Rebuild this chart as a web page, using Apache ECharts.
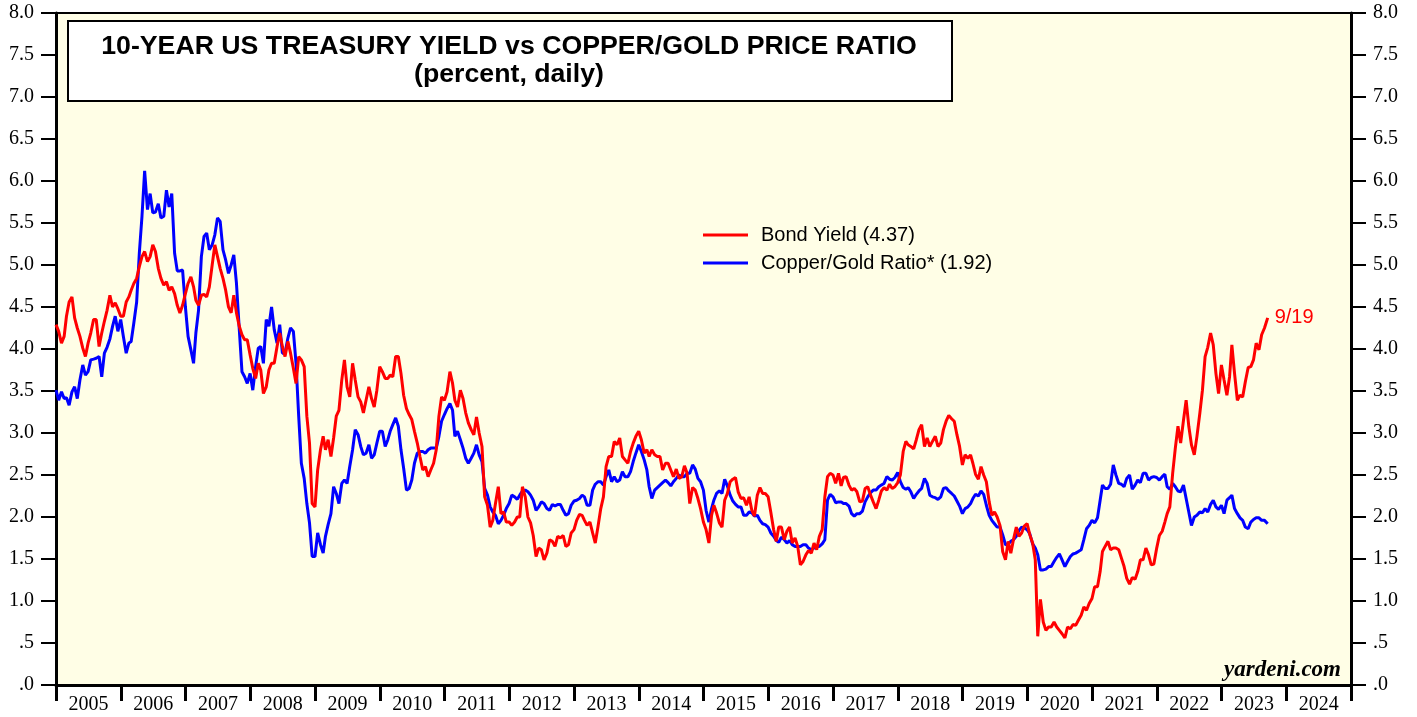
<!DOCTYPE html>
<html>
<head>
<meta charset="utf-8">
<script src="https://cdn.jsdelivr.net/npm/echarts@6/dist/echarts.min.js"></script>
<style>
  html, body { margin: 0; padding: 0; background: #ffffff; }
  #chart { width: 1417px; height: 717px; }
</style>
</head>
<body>
<div id="chart"></div>
<script>
// Year labels along the bottom axis (one band per calendar year)
const yearLabels = ['2005','2006','2007','2008','2009','2010','2011','2012','2013','2014',
                    '2015','2016','2017','2018','2019','2020','2021','2022','2023','2024'];

// Readings are taken on the 1st and 16th of each month from Jan 1, 2005,
// followed by the latest daily reading
const firstYear = 2005;
const lastDate = '2023-09-19';
const lastLabel = '9/19';

// 10-year US Treasury yield, percent (one row per year, 24 readings each)
const bondYield = [
  4.29, 4.21, 4.07, 4.15, 4.39, 4.56, 4.62, 4.37, 4.25, 4.15, 4.01, 3.91, 4.07, 4.19, 4.35, 4.35, 4.03, 4.19, 4.33, 4.46, 4.64, 4.50, 4.55, 4.48,
  4.39, 4.39, 4.56, 4.62, 4.70, 4.78, 4.84, 4.98, 5.10, 5.16, 5.04, 5.10, 5.24, 5.16, 4.96, 4.84, 4.76, 4.80, 4.70, 4.74, 4.66, 4.52, 4.43, 4.52,
  4.66, 4.78, 4.86, 4.74, 4.58, 4.52, 4.64, 4.65, 4.62, 4.74, 5.00, 5.24, 5.10, 4.96, 4.84, 4.70, 4.50, 4.43, 4.64, 4.43, 4.27, 4.17, 4.11, 4.11,
  3.93, 3.77, 3.65, 3.83, 3.75, 3.47, 3.55, 3.75, 3.83, 3.83, 4.03, 4.19, 4.03, 3.91, 4.09, 3.95, 3.77, 3.59, 3.91, 3.87, 3.79, 3.20, 2.88, 2.16,
  2.12, 2.56, 2.80, 2.96, 2.80, 2.92, 2.72, 2.94, 3.20, 3.27, 3.63, 3.87, 3.55, 3.43, 3.83, 3.63, 3.43, 3.37, 3.24, 3.39, 3.55, 3.41, 3.31, 3.51,
  3.79, 3.73, 3.65, 3.65, 3.69, 3.67, 3.91, 3.91, 3.71, 3.45, 3.29, 3.22, 3.16, 3.02, 2.88, 2.72, 2.56, 2.60, 2.48, 2.56, 2.64, 2.80, 3.20, 3.43,
  3.39, 3.49, 3.73, 3.59, 3.39, 3.31, 3.51, 3.41, 3.24, 3.12, 3.04, 2.98, 3.19, 3.00, 2.84, 2.24, 2.14, 1.88, 1.96, 2.16, 2.36, 2.04, 2.06, 1.94,
  1.94, 1.90, 1.94, 2.00, 2.00, 2.36, 2.24, 2.00, 1.93, 1.78, 1.53, 1.63, 1.61, 1.49, 1.57, 1.73, 1.71, 1.65, 1.77, 1.75, 1.78, 1.65, 1.67, 1.81,
  1.85, 1.96, 2.03, 2.02, 1.96, 1.90, 1.94, 1.81, 1.69, 1.88, 2.10, 2.24, 2.60, 2.72, 2.72, 2.90, 2.86, 2.94, 2.72, 2.68, 2.64, 2.78, 2.88, 2.96,
  3.02, 2.92, 2.76, 2.80, 2.72, 2.80, 2.74, 2.72, 2.72, 2.56, 2.64, 2.64, 2.56, 2.48, 2.57, 2.46, 2.48, 2.61, 2.52, 2.16, 2.35, 2.32, 2.22, 2.10,
  1.94, 1.85, 1.69, 2.02, 2.14, 2.05, 1.93, 1.88, 2.20, 2.28, 2.42, 2.45, 2.47, 2.30, 2.22, 2.23, 2.14, 2.24, 2.08, 2.01, 2.26, 2.35, 2.28, 2.28,
  2.24, 2.06, 1.85, 1.71, 1.88, 1.88, 1.73, 1.83, 1.88, 1.69, 1.75, 1.65, 1.43, 1.47, 1.55, 1.60, 1.57, 1.69, 1.61, 1.77, 1.85, 2.24, 2.48, 2.52,
  2.50, 2.40, 2.52, 2.37, 2.47, 2.48, 2.38, 2.32, 2.34, 2.30, 2.18, 2.19, 2.34, 2.36, 2.26, 2.18, 2.10, 2.20, 2.31, 2.35, 2.32, 2.39, 2.34, 2.36,
  2.41, 2.50, 2.78, 2.90, 2.86, 2.84, 2.81, 2.92, 3.04, 3.10, 2.84, 2.94, 2.84, 2.90, 2.96, 2.84, 2.88, 3.04, 3.14, 3.21, 3.17, 3.14, 2.98, 2.84,
  2.62, 2.74, 2.70, 2.74, 2.64, 2.51, 2.45, 2.60, 2.50, 2.42, 2.18, 2.02, 2.06, 2.00, 1.90, 1.59, 1.49, 1.71, 1.57, 1.73, 1.88, 1.77, 1.81, 1.89,
  1.92, 1.79, 1.69, 1.49, 0.58, 1.02, 0.75, 0.65, 0.69, 0.69, 0.75, 0.69, 0.65, 0.61, 0.56, 0.69, 0.67, 0.72, 0.71, 0.77, 0.83, 0.93, 0.89, 0.97,
  1.03, 1.17, 1.17, 1.35, 1.59, 1.65, 1.71, 1.61, 1.63, 1.63, 1.61, 1.51, 1.41, 1.27, 1.20, 1.28, 1.26, 1.35, 1.49, 1.49, 1.63, 1.55, 1.43, 1.44,
  1.63, 1.78, 1.83, 1.94, 2.04, 2.12, 2.52, 2.82, 3.08, 2.88, 3.15, 3.39, 3.08, 2.86, 2.74, 2.96, 3.23, 3.51, 3.91, 4.02, 4.19, 4.05, 3.71, 3.47,
  3.81, 3.63, 3.45, 3.67, 4.05, 3.71, 3.39, 3.45, 3.43, 3.61, 3.78, 3.79, 3.87, 4.07, 3.99, 4.17, 4.25
];
const bondYieldLast = 4.37;

// Copper/gold price ratio (scaled), same reading dates
const copperGold = [
  3.51, 3.39, 3.49, 3.41, 3.42, 3.33, 3.49, 3.55, 3.41, 3.63, 3.81, 3.69, 3.73, 3.87, 3.88, 3.89, 3.91, 3.67, 3.95, 4.02, 4.12, 4.27, 4.39, 4.21,
  4.35, 4.15, 3.95, 4.07, 4.09, 4.31, 4.56, 5.14, 5.58, 6.12, 5.66, 5.85, 5.62, 5.63, 5.73, 5.56, 5.58, 5.89, 5.69, 5.85, 5.14, 4.93, 4.93, 4.94,
  4.50, 4.15, 3.99, 3.83, 4.19, 4.46, 5.10, 5.34, 5.38, 5.18, 5.24, 5.36, 5.56, 5.52, 5.18, 5.06, 4.90, 5.00, 5.12, 4.78, 4.23, 3.73, 3.67, 3.59,
  3.71, 3.51, 3.79, 4.01, 4.03, 3.83, 4.35, 4.27, 4.50, 4.23, 4.07, 4.29, 3.95, 3.95, 4.13, 4.25, 4.21, 3.83, 3.20, 2.64, 2.46, 2.16, 1.93, 1.53,
  1.53, 1.81, 1.67, 1.57, 1.77, 1.91, 2.04, 2.36, 2.28, 2.16, 2.40, 2.44, 2.40, 2.60, 2.80, 3.04, 2.98, 2.84, 2.74, 2.76, 2.86, 2.70, 2.74, 2.88,
  3.02, 3.02, 2.84, 2.92, 3.02, 3.10, 3.18, 3.08, 2.80, 2.58, 2.32, 2.34, 2.44, 2.64, 2.76, 2.78, 2.78, 2.76, 2.80, 2.82, 2.82, 2.82, 2.96, 3.14,
  3.22, 3.29, 3.35, 3.27, 2.96, 3.02, 2.92, 2.82, 2.70, 2.64, 2.70, 2.76, 2.86, 2.74, 2.66, 2.34, 2.26, 2.12, 2.06, 2.02, 1.92, 1.96, 2.02, 2.10,
  2.16, 2.26, 2.24, 2.21, 2.26, 2.31, 2.32, 2.30, 2.26, 2.20, 2.08, 2.12, 2.18, 2.16, 2.10, 2.08, 2.15, 2.13, 2.15, 2.15, 2.08, 2.02, 2.04, 2.14,
  2.19, 2.20, 2.22, 2.26, 2.24, 2.14, 2.14, 2.32, 2.39, 2.42, 2.42, 2.38, 2.48, 2.56, 2.42, 2.48, 2.42, 2.44, 2.54, 2.48, 2.48, 2.54, 2.66, 2.76,
  2.86, 2.78, 2.68, 2.56, 2.36, 2.22, 2.32, 2.35, 2.38, 2.41, 2.44, 2.41, 2.37, 2.42, 2.46, 2.50, 2.48, 2.48, 2.52, 2.52, 2.62, 2.57, 2.46, 2.42,
  2.32, 2.08, 1.94, 2.10, 2.20, 2.28, 2.31, 2.28, 2.45, 2.37, 2.26, 2.19, 2.15, 2.12, 2.12, 2.02, 2.02, 2.06, 2.05, 2.01, 2.02, 1.96, 1.92, 1.91,
  1.88, 1.81, 1.77, 1.72, 1.70, 1.76, 1.73, 1.69, 1.72, 1.67, 1.65, 1.65, 1.65, 1.67, 1.67, 1.63, 1.61, 1.63, 1.65, 1.65, 1.68, 1.73, 2.20, 2.27,
  2.24, 2.17, 2.18, 2.18, 2.16, 2.16, 2.13, 2.04, 2.01, 2.04, 2.04, 2.07, 2.18, 2.24, 2.29, 2.32, 2.32, 2.36, 2.38, 2.40, 2.48, 2.45, 2.44, 2.47,
  2.53, 2.42, 2.35, 2.33, 2.35, 2.30, 2.22, 2.27, 2.31, 2.34, 2.46, 2.40, 2.26, 2.24, 2.23, 2.21, 2.24, 2.34, 2.35, 2.31, 2.28, 2.25, 2.19, 2.13,
  2.04, 2.10, 2.12, 2.16, 2.22, 2.27, 2.25, 2.31, 2.27, 2.14, 2.02, 1.96, 1.92, 1.88, 1.88, 1.79, 1.67, 1.68, 1.71, 1.73, 1.77, 1.84, 1.88, 1.87,
  1.85, 1.80, 1.68, 1.63, 1.55, 1.37, 1.37, 1.38, 1.41, 1.41, 1.47, 1.52, 1.56, 1.49, 1.41, 1.47, 1.53, 1.56, 1.57, 1.59, 1.61, 1.73, 1.86, 1.90,
  1.96, 1.93, 1.99, 2.20, 2.38, 2.34, 2.34, 2.39, 2.62, 2.50, 2.40, 2.39, 2.36, 2.46, 2.50, 2.33, 2.38, 2.44, 2.41, 2.52, 2.52, 2.44, 2.47, 2.48,
  2.47, 2.44, 2.48, 2.51, 2.36, 2.33, 2.40, 2.36, 2.31, 2.30, 2.38, 2.22, 2.06, 1.90, 2.00, 2.02, 2.06, 2.05, 2.10, 2.06, 2.15, 2.20, 2.12, 2.09,
  2.14, 2.04, 2.20, 2.23, 2.26, 2.10, 2.04, 1.99, 1.96, 1.88, 1.86, 1.94, 1.97, 1.99, 1.99, 1.96, 1.96
];
const copperGoldLast = 1.92;

// Y-axis ticks, shared by both sides
const yMin = 0, yMax = 8, yStep = 0.5;

function semiMonthlyPairs(values, lastValue) {
  const pts = values.map((v, i) =>
    [Date.UTC(firstYear, Math.floor(i / 2), i % 2 ? 16 : 1), v]);
  const d = lastDate.split('-').map(Number);
  pts.push([Date.UTC(d[0], d[1] - 1, d[2]), lastValue]);
  return pts;
}

const serifFont = '"Liberation Serif", "Times New Roman", serif';
const sansFont = '"Liberation Sans", Arial, sans-serif';

function yLabel(v) {
  const s = v.toFixed(1);
  return s.charAt(0) === '0' ? s.slice(1) : s;
}

const yAxisCommon = {
  type: 'value', min: yMin, max: yMax, interval: yStep,
  splitLine: { show: false },
  axisLine: { show: true, lineStyle: { color: '#000', width: 3 } },
  axisTick: { show: true, inside: false, length: 15, lineStyle: { color: '#000', width: 2 } },
  axisLabel: { color: '#000', fontFamily: serifFont, fontSize: 20, margin: 22, formatter: yLabel }
};

const chart = echarts.init(document.getElementById('chart'), null, { renderer: 'canvas' });

chart.setOption({
  animation: false,
  backgroundColor: '#ffffff',
  grid: {
    left: 56, right: 66, top: 13, bottom: 32,
    show: true, backgroundColor: '#FFFEE6', borderColor: '#000', borderWidth: 2
  },
  xAxis: [
    {
      type: 'category', data: yearLabels, boundaryGap: true, position: 'bottom',
      axisLine: { show: true, lineStyle: { color: '#000', width: 3 } },
      axisTick: { show: true, interval: 0, length: 16, lineStyle: { color: '#000', width: 3 } },
      axisLabel: { interval: 0, color: '#000', fontFamily: serifFont, fontSize: 20, margin: 10 },
      splitLine: { show: false }
    },
    {
      type: 'time', show: false,
      min: Date.UTC(2005, 0, 1), max: Date.UTC(2025, 0, 1)
    }
  ],
  yAxis: [
    Object.assign({ position: 'left' }, yAxisCommon),
    Object.assign({ position: 'right' }, yAxisCommon)
  ],
  legend: {
    orient: 'vertical', left: 703, top: 225, padding: 0,
    itemWidth: 45, itemHeight: 3, itemGap: 8,
    icon: 'rect',
    textStyle: { color: '#000', fontFamily: sansFont, fontSize: 20, padding: [0, 0, 0, 8] },
    data: ['Bond Yield (4.37)', 'Copper/Gold Ratio* (1.92)']
  },
  series: [
    {
      name: 'Copper/Gold Ratio* (1.92)', type: 'line', xAxisIndex: 1, yAxisIndex: 0,
      data: semiMonthlyPairs(copperGold, copperGoldLast),
      showSymbol: false, symbol: 'none',
      lineStyle: { color: '#0000FF', width: 3 }, itemStyle: { color: '#0000FF' }
    },
    {
      name: 'Bond Yield (4.37)', type: 'line', xAxisIndex: 1, yAxisIndex: 0,
      data: semiMonthlyPairs(bondYield, bondYieldLast),
      showSymbol: false, symbol: 'none',
      lineStyle: { color: '#FF0000', width: 3 }, itemStyle: { color: '#FF0000' },
      endLabel: {
        show: true, formatter: lastLabel, color: '#FF0000',
        fontFamily: sansFont, fontSize: 20, distance: 7
      }
    }
  ],
  graphic: [
    {
      type: 'rect', left: 67, top: 20, z: 10,
      shape: { width: 884, height: 80 },
      style: { fill: '#ffffff', stroke: '#000', lineWidth: 2 }
    },
    {
      type: 'text', x: 509, y: 47, z: 11,
      style: {
        text: '10-YEAR US TREASURY YIELD vs COPPER/GOLD PRICE RATIO',
        fill: '#000', font: 'bold 26.7px ' + sansFont, align: 'center', verticalAlign: 'middle'
      }
    },
    {
      type: 'text', x: 509, y: 75, z: 11,
      style: {
        text: '(percent, daily)',
        fill: '#000', font: 'bold 26.7px ' + sansFont, align: 'center', verticalAlign: 'middle'
      }
    },
    {
      type: 'text', x: 1341, y: 670, z: 11,
      style: {
        text: 'yardeni.com',
        fill: '#000', font: 'italic bold 23px ' + serifFont, align: 'right', verticalAlign: 'middle'
      }
    }
  ]
});
</script>
</body>
</html>
